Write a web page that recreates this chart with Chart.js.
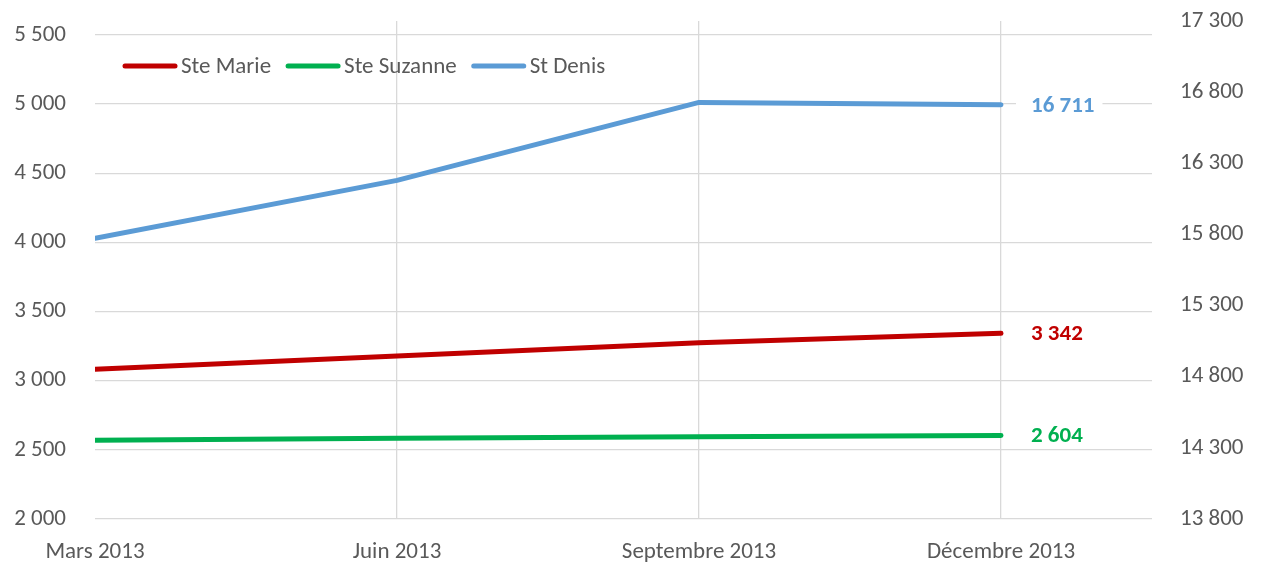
<!DOCTYPE html>
<html>
<head>
<meta charset="utf-8">
<script src="https://cdn.jsdelivr.net/npm/chart.js@4/dist/chart.umd.min.js"></script>
<style>
  html, body { margin: 0; padding: 0; background: #fff; overflow: hidden; }
  #wrap { width: 1263px; height: 567px; position: relative; }
</style>
</head>
<body>
<div id="wrap"><canvas id="chart"></canvas></div>
<script>
// --- Data ---
const months = ["Mars 2013", "Juin 2013", "Septembre 2013", "Décembre 2013"];
const steMarie = [3082, 3178, 3274, 3342];
const steSuzanne = [2569, 2583, 2595, 2604];
const stDenis = [15773, 16180, 16728, 16711];

const leftTicks = [2000, 2500, 3000, 3500, 4000, 4500, 5000, 5500];
const rightTicks = [13800, 14300, 14800, 15300, 15800, 16300, 16800, 17300];

const FONT = "Calibri, Carlito, Lato, sans-serif";
const SIZE = 23;
const fmt = v => String(v).replace(/\B(?=(\d{3})+(?!\d))/g, " ");
const toPoints = vals => vals.map((v, i) => ({ x: i, y: v }));

// --- Last-value labels with white box ---
const endLabels = {
  id: "endLabels",
  afterDatasetsDraw(chart) {
    const ctx = chart.ctx;
    ctx.save();
    ctx.font = "bold " + SIZE + "px " + FONT;
    ctx.textBaseline = "middle";
    chart.data.datasets.forEach((ds, i) => {
      const meta = chart.getDatasetMeta(i);
      const pt = meta.data[meta.data.length - 1];
      const text = fmt(ds.data[ds.data.length - 1].y);
      const w = ctx.measureText(text).width;
      ctx.fillStyle = "#fff";
      ctx.fillRect(pt.x + 15, pt.y - 13, w + 23, 26);
      ctx.fillStyle = ds.borderColor;
      ctx.fillText(text, pt.x + 30, pt.y + 1);
    });
    ctx.restore();
  }
};

// --- Legend drawn inside the plot, in one row ---
const innerLegend = {
  id: "innerLegend",
  afterDraw(chart) {
    const ctx = chart.ctx;
    const area = chart.chartArea;
    let x = area.left + 28;
    const y = area.top + 45;
    ctx.save();
    ctx.font = SIZE + "px " + FONT;
    ctx.textBaseline = "middle";
    chart.data.datasets.forEach(ds => {
      ctx.strokeStyle = ds.borderColor;
      ctx.lineWidth = 5;
      ctx.lineCap = "round";
      ctx.beginPath();
      ctx.moveTo(x + 2, y);
      ctx.lineTo(x + 52, y);
      ctx.stroke();
      x += 58;
      ctx.fillStyle = "#595959";
      ctx.fillText(ds.label, x, y + 1);
      x += ctx.measureText(ds.label).width + 15;
    });
    ctx.restore();
  }
};

// y axes: fixed width, no extra top/bottom padding from tick labels
const fitY = width => s => { s.width = width; s.paddingTop = 0; s.paddingBottom = 0; };

const series = [
  { label: "Ste Marie", data: toPoints(steMarie), color: "#C00000", axis: "y" },
  { label: "Ste Suzanne", data: toPoints(steSuzanne), color: "#00B050", axis: "y" },
  { label: "St Denis", data: toPoints(stDenis), color: "#5B9BD5", axis: "y1" }
];

new Chart(document.getElementById("chart"), {
  type: "line",
  data: {
    datasets: series.map(s => ({
      label: s.label,
      data: s.data,
      yAxisID: s.axis,
      borderColor: s.color,
      backgroundColor: s.color,
      borderWidth: 5,
      borderCapStyle: "round",
      borderJoinStyle: "round",
      pointRadius: 0,
      tension: 0,
      fill: false
    }))
  },
  options: {
    responsive: true,
    maintainAspectRatio: false,
    animation: false,
    layout: { padding: { top: 21, left: 0, right: 0, bottom: 0 } },
    plugins: {
      tooltip: { enabled: false },
      legend: { display: false }
    },
    scales: {
      x: {
        type: "linear",
        min: 0,
        max: 3.5,
        afterBuildTicks: s => { s.ticks = months.map((m, i) => ({ value: i })); },
        afterFit: s => { s.height = 48; },
        ticks: {
          padding: 19,
          maxRotation: 0,
          autoSkip: false,
          color: "#595959",
          font: { family: FONT, size: SIZE },
          callback: v => months[v]
        },
        grid: {
          drawTicks: false,
          lineWidth: 1.3,
          color: c => (c.tick && c.tick.value === 0 ? "rgba(0,0,0,0)" : "#D9D9D9")
        },
        border: { display: false }
      },
      y: {
        position: "left",
        min: 2000,
        max: 5600,
        afterBuildTicks: s => { s.ticks = leftTicks.map(v => ({ value: v })); },
        afterFit: fitY(95),
        ticks: {
          padding: 29,
          color: "#595959",
          font: { family: FONT, size: SIZE },
          callback: v => fmt(v)
        },
        grid: { drawTicks: false, color: "#D9D9D9", lineWidth: 1.3 },
        border: { display: false }
      },
      y1: {
        position: "right",
        min: 13800,
        max: 17300,
        afterBuildTicks: s => { s.ticks = rightTicks.map(v => ({ value: v })); },
        afterFit: fitY(111),
        ticks: {
          padding: 28,
          color: "#595959",
          font: { family: FONT, size: SIZE },
          callback: v => fmt(v)
        },
        grid: { drawOnChartArea: false, drawTicks: false },
        border: { display: false }
      }
    }
  },
  plugins: [endLabels, innerLegend]
});
</script>
</body>
</html>
